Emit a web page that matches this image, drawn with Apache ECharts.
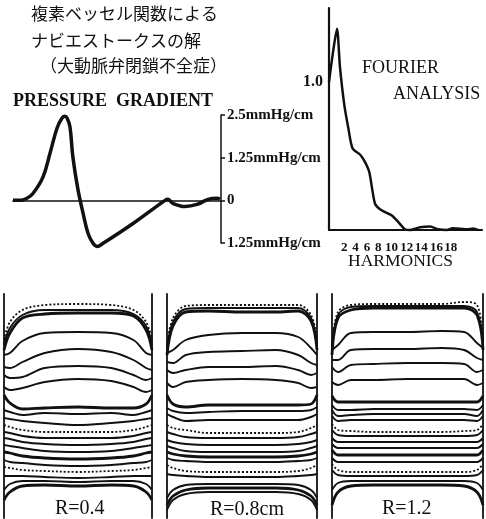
<!DOCTYPE html>
<html>
<head>
<meta charset="utf-8">
<script src="https://cdn.jsdelivr.net/npm/echarts@6/dist/echarts.min.js"></script>
<style>
html, body { margin: 0; padding: 0; background: #fff; }
#main { width: 486px; height: 519px; }
</style>
</head>
<body>
<div id="main"></div>
<script>
// 見出し
var titleLines = ['複素ベッセル関数による', 'ナビエストークスの解', '（大動脈弁閉鎖不全症）'];

// 圧力勾配 (time 0-100, mmHg/cm)
var pgTime = [0, 3.4, 6.7, 9.6, 14.4, 17.8, 21.2, 23.6, 25, 26, 27.4, 28.8, 31.3, 33.7, 36.1, 38.5, 40.4, 43.3, 57.7, 73.1, 74.5, 76.9, 82.7, 88.5, 93.8, 98.1, 99.5];
var pgValue = [0, 0, 0.06, 0.2, 0.68, 1.38, 2.12, 2.41, 2.46, 2.41, 2.15, 1.26, 0.29, -0.38, -0.97, -1.26, -1.35, -1.26, -0.68, 0, 0.03, -0.09, -0.18, -0.12, 0.03, 0.06, 0.03];
var pgTickValues = [-1.25, 0, 1.25, 2.5];
var pgTickLabels = ['1.25mmHg/cm', '0', '1.25mmHg/cm', '2.5mmHg/cm'];

// フーリエ解析
var harmonic = [0, 0.6, 1.2, 1.65, 2.3, 2.9, 3.55, 4.66, 5.4, 6.06, 6.9, 7.67, 8.67, 9.4, 10.4, 11.4, 12.2, 13.7, 15.2, 16.4, 17.7, 18.6, 19.7, 20.7, 21.7, 22.4];
var amplitude = [1.0, 1.2, 1.36, 1.10, 0.845, 0.69, 0.55, 0.51, 0.46, 0.39, 0.18, 0.14, 0.115, 0.10, 0.055, 0.005, 0, 0.018, 0.023, 0.005, 0, 0.011, 0.009, 0.005, 0.01, 0];
var harmonicTicks = [2, 4, 6, 8, 10, 12, 14, 16, 18];

// 速度分布 (x: -1..1 管壁間, y: 時相ごとの変位)
var profileX = [-1, -0.92, -0.75, -0.45, 0, 0.45, 0.75, 0.92, 1];
var profilesR04 = [
	[176, 194, 206, 211, 212, 211, 206, 194, 176],
	[171, 188, 201, 206, 206, 206, 202, 190, 171],
	[166, 183, 198, 202, 203, 203, 200, 186, 166],
	[161, 163, 175, 183, 184, 183, 176, 163, 161],
	[149, 148, 154, 163, 167, 164, 156, 148, 146],
	[141, 138, 139, 148, 150, 148, 141, 136, 138],
	[129, 126, 128, 134, 137, 135, 129, 124, 126],
	[121, 113, 107, 108, 109, 108, 108, 112, 121],
	[106, 104, 101, 103, 102, 103, 101, 104, 106],
	[98, 97, 95, 93, 91, 93, 95, 97, 98],
	[91, 89, 86, 84, 84, 84, 86, 89, 91],
	[84, 83, 80, 78, 78, 78, 80, 83, 84],
	[78, 77, 74, 72, 71, 72, 74, 77, 78],
	[71, 70, 68, 65, 64, 65, 68, 70, 71],
	[64, 63, 60, 58, 57, 58, 60, 63, 64],
	[56, 54, 53, 51, 50, 51, 53, 54, 56],
	[49, 48, 46, 45, 44, 45, 46, 48, 49],
	[40, 40, 40, 39, 38, 39, 40, 40, 40],
	[26, 32, 35, 35, 34, 35, 35, 32, 26],
	[16, 24, 30, 31, 30, 31, 30, 24, 16]
];
var profilesR08 = [
	[171, 198, 210, 211, 211, 211, 211, 201, 176],
	[166, 194, 207, 208, 208, 208, 208, 198, 171],
	[161, 190, 204, 205, 204, 204, 205, 195, 166],
	[163, 166, 176, 181, 183, 183, 179, 168, 161],
	[154, 153, 161, 164, 165, 166, 161, 153, 151],
	[146, 143, 146, 149, 149, 150, 146, 141, 143],
	[133, 129, 134, 136, 137, 136, 133, 128, 129],
	[121, 112, 109, 111, 111, 111, 111, 112, 121],
	[108, 105, 103, 104, 105, 105, 105, 106, 109],
	[102, 99, 95, 96, 96, 96, 96, 99, 102],
	[91, 88, 86, 83, 83, 83, 84, 88, 91],
	[84, 82, 79, 78, 78, 78, 79, 82, 84],
	[76, 74, 72, 71, 71, 71, 72, 74, 76],
	[70, 68, 65, 64, 64, 64, 65, 68, 70],
	[64, 62, 60, 59, 59, 59, 60, 62, 64],
	[58, 56, 55, 54, 54, 54, 55, 56, 58],
	[51, 48, 45, 44, 44, 44, 45, 48, 51],
	[42, 41, 40, 39, 39, 39, 40, 41, 42],
	[18, 26, 31, 32, 32, 32, 31, 26, 18],
	[11, 20, 26, 28, 28, 28, 26, 20, 11],
	[6, 16, 22, 24, 24, 24, 22, 16, 6]
];
var profilesR12 = [
	[171, 204, 211, 212, 212, 212, 214, 211, 176],
	[166, 201, 209, 210, 210, 210, 210, 204, 171],
	[161, 198, 206, 208, 208, 208, 208, 201, 166],
	[166, 171, 183, 184, 184, 185, 184, 173, 168],
	[156, 156, 166, 167, 167, 168, 166, 158, 156],
	[149, 144, 151, 152, 153, 153, 152, 144, 146],
	[134, 131, 136, 136, 137, 137, 137, 131, 133],
	[120, 114, 114, 114, 114, 114, 114, 114, 120],
	[111, 106, 106, 107, 107, 107, 107, 106, 111],
	[106, 100, 101, 102, 102, 102, 102, 100, 106],
	[100, 95, 96, 96, 96, 96, 96, 95, 100],
	[92, 86, 85, 84, 84, 84, 85, 86, 92],
	[86, 81, 80, 80, 80, 80, 80, 81, 86],
	[78, 74, 74, 74, 74, 74, 74, 74, 78],
	[72, 68, 68, 68, 68, 68, 68, 68, 72],
	[66, 61, 61, 61, 61, 61, 61, 61, 66],
	[58, 54, 54, 54, 54, 54, 54, 54, 58],
	[52, 46, 44, 44, 44, 44, 44, 46, 52],
	[46, 41, 40, 40, 40, 40, 40, 41, 46],
	[26, 33, 35, 35, 35, 35, 35, 33, 26],
	[11, 24, 30, 31, 31, 31, 30, 24, 11]
];
var panelLabels = ['R=0.4', 'R=0.8cm', 'R=1.2'];

(function()
{
	var serif = 'Liberation Serif';
	var ink = '#111';
	var chart = echarts.init(document.getElementById('main'), null, { renderer: 'canvas' });

	function zip(xs, ys)
	{
		var out = [];
		for (var i = 0; i < xs.length; i++)
			out.push([xs[i], ys[i]]);
		return out;
	}

	function hiddenAxis(grid, min, max)
	{
		return { type: 'value', gridIndex: grid, min: min, max: max, show: false, splitLine: { show: false } };
	}

	function wallAxis(grid, pos)
	{
		return {
			type: 'value', gridIndex: grid, position: pos, min: -2, max: 222,
			axisLine: { show: true, onZero: false, lineStyle: { color: ink, width: 1.8 } },
			axisTick: { show: false }, axisLabel: { show: false }, splitLine: { show: false }
		};
	}

	// 印刷物の目盛ラベルは少しずれて組まれている
	var labelNudge = { 2: 'r2', 6: 'l2', 8: 'l4', 10: 'l4', 12: 'l2', 14: 'l1', 16: 'r1', 18: 'r2' };

	var panels = [
		{ left: 4, width: 148, data: profilesR04, dotted: [0, 10, 16], thick: [2, 7, 14, 19] },
		{ left: 167, width: 150, data: profilesR08, dotted: [0, 10, 16], thick: [2, 7, 14, 19] },
		{ left: 332, width: 151, data: profilesR12, dotted: [0, 11, 17], thick: [2, 7, 15, 20] }
	];

	var grids =
	[
		{ left: 13, top: 115, width: 208, height: 128 },
		{ left: 329, top: 8, width: 153, height: 222 }
	];
	var xAxes =
	[
		{
			type: 'value', gridIndex: 0, min: 0, max: 100,
			axisLine: { show: true, onZero: true, lineStyle: { color: ink, width: 1.6 } },
			axisTick: { show: false }, axisLabel: { show: false }, splitLine: { show: false }
		},
		{
			type: 'value', gridIndex: 1, min: 0, max: 23, interval: 2,
			axisLine: { show: true, lineStyle: { color: ink, width: 2.2 } },
			axisTick: { show: false }, splitLine: { show: false },
			axisLabel:
			{
				margin: 11, color: ink, fontFamily: serif, fontWeight: 'bold', fontSize: 13,
				formatter: function(v)
				{
					if (harmonicTicks.indexOf(v) < 0)
						return '';
					return '{' + (labelNudge[v] || 'c') + '|' + v + '}';
				},
				rich:
				{
					c: {},
					l1: { padding: [0, 2, 0, 0] },
					l2: { padding: [0, 4, 0, 0] },
					l4: { padding: [0, 8, 0, 0] },
					r1: { padding: [0, 0, 0, 2] },
					r2: { padding: [0, 0, 0, 4] }
				}
			}
		}
	];
	var yAxes =
	[
		{
			type: 'value', gridIndex: 0, position: 'right', min: -1.25, max: 2.5, interval: 1.25,
			axisLine: { show: true, onZero: false, lineStyle: { color: ink, width: 1.5 } },
			axisTick: { show: true, inside: false, length: 4, lineStyle: { color: ink, width: 1.5 } },
			splitLine: { show: false },
			axisLabel:
			{
				margin: 6, color: ink, fontFamily: serif, fontWeight: 'bold', fontSize: 15,
				formatter: function(v)
				{
					var i = pgTickValues.indexOf(v);
					return i >= 0 ? pgTickLabels[i] : '';
				}
			}
		},
		{
			type: 'value', gridIndex: 1, min: 0, max: 1.5, interval: 0.5,
			axisLine: { show: true, lineStyle: { color: ink, width: 2.2 } },
			axisTick: { show: false }, splitLine: { show: false },
			axisLabel:
			{
				margin: 6, color: ink, fontFamily: serif, fontWeight: 'bold', fontSize: 16,
				formatter: function(v) { return v === 1 ? '1.0' : ''; }
			}
		}
	];

	var series =
	[
		{
			type: 'line', xAxisIndex: 0, yAxisIndex: 0, data: zip(pgTime, pgValue),
			smooth: 0.4, showSymbol: false, clip: false, silent: true,
			lineStyle: { color: ink, width: 3.5 }
		},
		{
			type: 'line', xAxisIndex: 1, yAxisIndex: 1, data: zip(harmonic, amplitude),
			smooth: 0.25, showSymbol: false, clip: false, silent: true,
			lineStyle: { color: ink, width: 2.5 }
		}
	];

	panels.forEach(function(p)
	{
		var g = grids.length;
		grids.push({ left: p.left, top: 294, width: p.width, height: 224 });
		xAxes.push(hiddenAxis(g, -1, 1));
		var yl = yAxes.length;
		yAxes.push(wallAxis(g, 'left'));
		yAxes.push(wallAxis(g, 'right'));

		p.data.forEach(function(curve, i)
		{
			var dotted = p.dotted.indexOf(i) >= 0;
			var thick = p.thick.indexOf(i) >= 0;
			series.push({
				type: 'line', xAxisIndex: g, yAxisIndex: yl, data: zip(profileX, curve),
				smooth: 0.35, showSymbol: false, clip: false, silent: true,
				lineStyle: { color: ink, width: dotted ? 1.8 : (thick ? 2.8 : 1.9), type: dotted ? [2, 2] : 'solid' }
			});
		});
	});

	var titleFont = { color: ink, fontFamily: 'Noto Sans CJK JP', fontSize: 17, fontWeight: 'normal' };
	var titles =
	[
		{ text: titleLines[0], left: 31, top: 5, padding: 0, textStyle: titleFont },
		{ text: titleLines[1], left: 31, top: 32, padding: 0, textStyle: titleFont },
		{ text: titleLines[2], left: 40, top: 57, padding: 0, textStyle: titleFont },
		{ text: 'PRESSURE  GRADIENT', left: 13, top: 92, padding: 0, textStyle: { color: ink, fontFamily: serif, fontSize: 18, fontWeight: 'bold' } },
		{ text: 'FOURIER', left: 362, top: 59, padding: 0, textStyle: { color: ink, fontFamily: serif, fontSize: 18, fontWeight: 'normal' } },
		{ text: 'ANALYSIS', left: 393, top: 85, padding: 0, textStyle: { color: ink, fontFamily: serif, fontSize: 18, fontWeight: 'normal' } },
		{ text: 'HARMONICS', left: 348, top: 252, padding: 0, textStyle: { color: ink, fontFamily: serif, fontSize: 17.5, fontWeight: 'normal' } },
		{ text: panelLabels[0], left: 55, top: 499, padding: 0, textStyle: { color: ink, fontFamily: serif, fontSize: 20, fontWeight: 'normal' } },
		{ text: panelLabels[1], left: 210, top: 500, padding: 0, textStyle: { color: ink, fontFamily: serif, fontSize: 20, fontWeight: 'normal' } },
		{ text: panelLabels[2], left: 382, top: 499, padding: 0, textStyle: { color: ink, fontFamily: serif, fontSize: 20, fontWeight: 'normal' } }
	];

	chart.setOption({
		animation: false,
		backgroundColor: '#fff',
		title: titles,
		grid: grids,
		xAxis: xAxes,
		yAxis: yAxes,
		series: series
	});
})();
</script>
</body>
</html>
